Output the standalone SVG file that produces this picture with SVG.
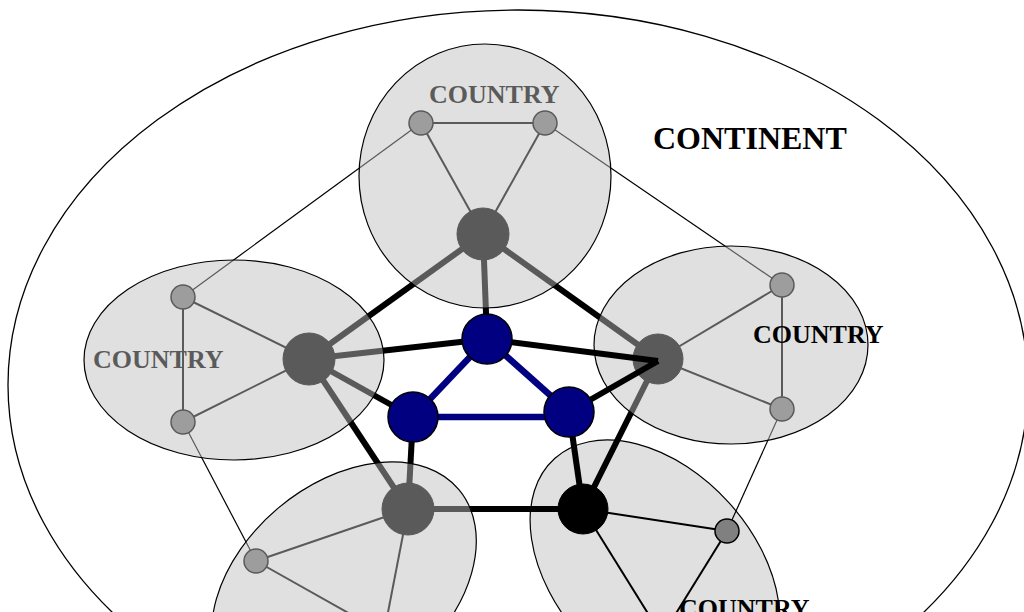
<svg xmlns="http://www.w3.org/2000/svg" width="1024" height="612" viewBox="0 0 1024 612">
<style>
.thin{stroke:#000;stroke-width:1.2;fill:none}
.inner{stroke:#000;stroke-width:2;fill:none}
.thick{stroke:#000;stroke-width:6;fill:none}
.blue{stroke:#000080;stroke-width:6.5;fill:none}
.big{fill:#000;stroke:#000;stroke-width:1}
.small{fill:#808080;stroke:#000;stroke-width:1.5}
.bnode{fill:#000080;stroke:#000;stroke-width:1.5}
.veil{fill:rgb(190,190,190);fill-opacity:0.475;stroke:#000;stroke-width:1.2}
.solid{fill:#e0e0e0;stroke:#000;stroke-width:1.2}
.lbl{font-family:"Liberation Serif","Times New Roman",serif;font-weight:bold;font-size:26px;fill:#000}
.big-lbl{font-family:"Liberation Serif","Times New Roman",serif;font-weight:bold;font-size:32px;fill:#000}
</style>
<rect width="1024" height="612" fill="#fff"/>
<g id="continent">
<ellipse cx="518" cy="385" rx="510" ry="375" fill="none" stroke="#000" stroke-width="1.3"/>
<text class="big-lbl" x="653" y="149">CONTINENT</text>
</g>
<g id="country-bottom-right">
<ellipse class="solid" cx="655" cy="570" rx="150" ry="100" transform="rotate(48 655 570)"/>
</g>
<g id="connectors">
<line class="thin" x1="421" y1="123" x2="183" y2="297"/>
<line class="thin" x1="545" y1="123" x2="782" y2="285"/>
<line class="thin" x1="183" y1="422" x2="256" y2="561"/>
<line class="thin" x1="782" y1="409" x2="727" y2="531"/>
<line class="inner" x1="421" y1="123" x2="545" y2="123"/>
<line class="inner" x1="421" y1="123" x2="483" y2="234"/>
<line class="inner" x1="545" y1="123" x2="483" y2="234"/>
<line class="inner" x1="183" y1="297" x2="183" y2="422"/>
<line class="inner" x1="183" y1="297" x2="309" y2="359"/>
<line class="inner" x1="183" y1="422" x2="309" y2="359"/>
<line class="inner" x1="782" y1="285" x2="782" y2="409"/>
<line class="inner" x1="782" y1="285" x2="658" y2="359"/>
<line class="inner" x1="782" y1="409" x2="658" y2="359"/>
<line class="inner" x1="256" y1="561" x2="408" y2="509"/>
<line class="inner" x1="256" y1="561" x2="384" y2="633"/>
<line class="inner" x1="408" y1="509" x2="384" y2="633"/>
<line class="inner" x1="583" y1="509" x2="727" y2="531"/>
<line class="inner" x1="583" y1="509" x2="662" y2="636"/>
<line class="inner" x1="727" y1="531" x2="662" y2="636"/>
<line class="thick" x1="483" y1="234" x2="309" y2="359"/>
<line class="thick" x1="483" y1="234" x2="658" y2="359"/>
<line class="thick" x1="483" y1="234" x2="487" y2="339"/>
<line class="thick" x1="309" y1="359" x2="487" y2="339"/>
<line class="thick" x1="309" y1="359" x2="413" y2="417"/>
<line class="thick" x1="309" y1="359" x2="408" y2="509"/>
<line class="thick" x1="658" y1="359" x2="583" y2="509"/>
<line class="thick" x1="413" y1="417" x2="408" y2="509"/>
<line class="thick" x1="569" y1="412" x2="583" y2="509"/>
<line class="thick" x1="408" y1="509" x2="583" y2="509"/>
<line class="blue" x1="487" y1="339" x2="413" y2="417"/>
<line class="blue" x1="487" y1="339" x2="569" y2="412"/>
<line class="blue" x1="413" y1="417" x2="569" y2="417"/>
</g>
<g id="country-bottom-right-members">
<circle class="big" cx="583" cy="509" r="25"/>
<circle class="small" cx="727" cy="531" r="12"/>
<text class="lbl" x="679" y="617">COUNTRY</text>
</g>
<g id="country-top">
<circle class="small" cx="421" cy="123" r="12"/>
<circle class="small" cx="545" cy="123" r="12"/>
<circle class="big" cx="483" cy="234" r="26"/>
<text class="lbl" x="429" y="103">COUNTRY</text>
<ellipse class="veil" cx="485" cy="176" rx="126" ry="132"/>
</g>
<g id="country-left">
<circle class="small" cx="183" cy="297" r="12"/>
<circle class="small" cx="183" cy="422" r="12"/>
<circle class="big" cx="309" cy="359" r="26"/>
<text class="lbl" x="93" y="368">COUNTRY</text>
<ellipse class="veil" cx="234" cy="360" rx="150" ry="100"/>
</g>
<g id="country-right">
<circle class="small" cx="782" cy="285" r="12"/>
<circle class="small" cx="782" cy="409" r="12"/>
<circle class="big" cx="658" cy="359" r="25"/>
<ellipse class="veil" cx="731" cy="345" rx="137" ry="99"/>
</g>
<g id="country-bottom-left">
<circle class="small" cx="256" cy="561" r="12"/>
<circle class="big" cx="408" cy="509" r="26"/>
<ellipse class="veil" cx="344" cy="586" rx="150" ry="102" transform="rotate(-40 344 586)"/>
</g>
<g id="connectors-over">
<line class="thick" x1="487" y1="339" x2="658" y2="361"/>
<line class="thick" x1="569" y1="412" x2="658" y2="361"/>
</g>
<g id="hub-1"><circle class="bnode" cx="487" cy="339" r="25"/></g>
<g id="hub-2"><circle class="bnode" cx="413" cy="417" r="25"/></g>
<g id="hub-3"><circle class="bnode" cx="569" cy="412" r="25"/></g>
<g id="label-right"><text class="lbl" x="753" y="343">COUNTRY</text></g>
</svg>
